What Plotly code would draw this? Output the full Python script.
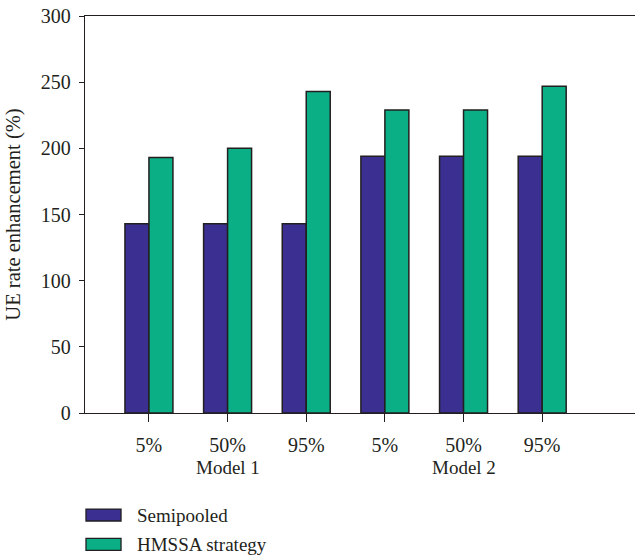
import plotly.graph_objects as go

categories = ["5%", "50%", "95%", "5%", "50%", "95%"]
groups = ["Model 1", "Model 2"]
semipooled = [143, 143, 143, 194, 194, 194]
hmssa = [193, 200, 243, 229, 229, 247]
series_names = ["Semipooled", "HMSSA strategy"]
colors = ["#3b3091", "#0aaf86"]

x = list(range(len(categories)))
ink = "#231f20"
fam = "Liberation Serif, Times New Roman, serif"
font = dict(family=fam, size=19, color=ink)
tickfont = dict(family=fam, size=20, color=ink)

fig = go.Figure()
for name, vals, col in zip(series_names, [semipooled, hmssa], colors):
    fig.add_trace(go.Bar(x=x, y=vals, name=name, marker=dict(color=col, line=dict(color=ink, width=1.5)),
                         showlegend=False))

fig.update_layout(
    width=635, height=558,
    margin=dict(l=85, r=0, t=16, b=145),
    plot_bgcolor="white", paper_bgcolor="white",
    font=font,
    barmode="group", bargap=0.39, bargroupgap=0,
    xaxis=dict(range=[-0.813, 6.18], tickvals=x, ticktext=categories, showline=True, mirror=True,
               linecolor=ink, linewidth=1.3, ticks="outside", ticklen=8, tickcolor=ink, tickwidth=1.3,
               showgrid=False, zeroline=False, ticklabelstandoff=6, automargin=False, tickfont=tickfont),
    yaxis=dict(range=[0, 300], dtick=50, showline=True, linecolor=ink, linewidth=1.3,
               ticks="outside", ticklen=5, tickcolor=ink, tickwidth=1.3, showgrid=False, zeroline=False,
               automargin=False, tickfont=tickfont, ticklabelstandoff=4,
               title=dict(text="UE rate enhancement (%)", standoff=14, font=dict(family=fam, size=20.5, color=ink))),
)

# group labels
for i, g in enumerate(groups):
    fig.add_annotation(x=3 * i + 1, y=-0.1385, xref="x", yref="paper", text=g, showarrow=False,
                       xanchor="center", yanchor="middle", font=font)

# legend drawn as boxes + text
leg_y = [-0.257, -0.331]
for name, col, yy in zip(series_names, colors, leg_y):
    fig.add_shape(type="rect", xref="paper", yref="paper", x0=0.0018, x1=0.0655,
                  y0=yy - 0.015, y1=yy + 0.015, fillcolor=col, line=dict(color=ink, width=1.3))
    fig.add_annotation(x=0.0909, y=yy, xref="paper", yref="paper", text=name, showarrow=False,
                       xanchor="left", yanchor="middle", font=font)

fig.write_html("out.html", config={"displayModeBar": False},
               post_script="document.body.style.margin='0';document.body.style.overflow='hidden';")
